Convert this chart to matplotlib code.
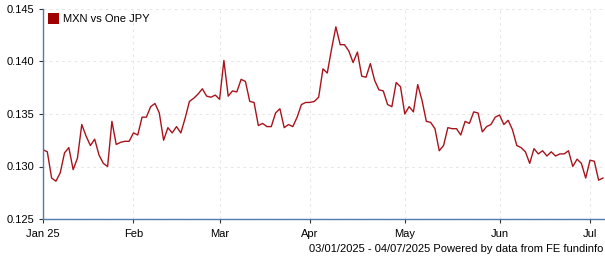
# Imports
import numpy as np
import pandas as pd
import matplotlib
matplotlib.use("Agg")
import matplotlib.pyplot as plt
from matplotlib.patches import Patch

plt.rcParams["font.family"] = ["Liberation Sans", "DejaVu Sans"]
plt.rcParams["font.size"] = 8

# =========================
# Data (one value per weekday, 03/01/2025 - 04/07/2025)
# =========================
dates = pd.bdate_range("2025-01-03", "2025-07-04")

mxn_jpy = [
    0.1316, 0.1314, 0.1289, 0.1286, 0.1294, 0.1313, 0.1318, 0.1297, 0.1308, 0.1340,
    0.1329, 0.1320, 0.1326, 0.1311, 0.1303, 0.1300, 0.1343, 0.1321, 0.1323, 0.1324,
    0.1324, 0.1332, 0.1330, 0.1347, 0.1347, 0.1357, 0.1360, 0.1351, 0.1325, 0.1337,
    0.1332, 0.1338, 0.1332, 0.1346, 0.1362, 0.1365, 0.1369, 0.1374, 0.1367, 0.1366,
    0.1368, 0.1364, 0.1401, 0.1367, 0.1372, 0.1371, 0.1383, 0.1381, 0.1362, 0.1361,
    0.1339, 0.1341, 0.1338, 0.1338, 0.1351, 0.1355, 0.1337, 0.1340, 0.1338, 0.1347,
    0.1359, 0.1361, 0.1361, 0.1362, 0.1366, 0.1393, 0.1389, 0.1412, 0.1433, 0.1416,
    0.1416, 0.1410, 0.1399, 0.1409, 0.1386, 0.1385, 0.1398, 0.1382, 0.1373, 0.1372,
    0.1359, 0.1357, 0.1380, 0.1376, 0.1350, 0.1357, 0.1352, 0.1378, 0.1363, 0.1343,
    0.1342, 0.1336, 0.1315, 0.1320, 0.1337, 0.1336, 0.1336, 0.1330, 0.1343, 0.1341,
    0.1352, 0.1351, 0.1333, 0.1338, 0.1340, 0.1347, 0.1349, 0.1340, 0.1344, 0.1335,
    0.1320, 0.1318, 0.1314, 0.1303, 0.1317, 0.1312, 0.1315, 0.1310, 0.1314, 0.1310,
    0.1312, 0.1312, 0.1315, 0.1300, 0.1307, 0.1303, 0.1289, 0.1306, 0.1305, 0.1287,
    0.1289,
]

y_ticks = [0.125, 0.130, 0.135, 0.140, 0.145]
month_labels = ["Jan 25", "Feb", "Mar", "Apr", "May", "Jun", "Jul"]

series_name = "MXN vs One JPY"
footer = "03/01/2025 - 04/07/2025 Powered by data from FE fundinfo"

# =========================
# Plot
# =========================
line_color = "#a8141c"
spine_color = "#4f7db0"

x = np.arange(len(dates))
month_start = [0] + [i for i in range(1, len(dates)) if dates[i].month != dates[i - 1].month]

fig = plt.figure(figsize=(6.05, 2.6), dpi=100)
ax = fig.add_axes([43 / 605, 41 / 260, 561 / 605, 210 / 260])

ax.plot(x, mxn_jpy, color=line_color, lw=1.0)

ax.set_xlim(0, 130.25)
ax.set_ylim(0.125, 0.145)

ax.set_yticks(y_ticks)
ax.set_yticklabels([f"{v:.3f}" for v in y_ticks])
ax.set_xticks(month_start)
ax.set_xticklabels(month_labels)

ax.grid(True, color="#e6e6e6", lw=0.75, linestyle=(0, (2.5, 3.5)))
ax.set_axisbelow(True)

for side in ["top", "right"]:
    ax.spines[side].set_visible(False)
for side in ["left", "bottom"]:
    ax.spines[side].set_color(spine_color)
    ax.spines[side].set_linewidth(1.0)

ax.tick_params(axis="both", direction="out", length=3, width=0.8, color="#333333",
               labelsize=8, labelcolor="black")
ax.tick_params(axis="y", pad=3)
ax.tick_params(axis="x", pad=4)

handle = Patch(facecolor="#a00000", edgecolor="none")
ax.legend([handle], [series_name], loc="upper left", bbox_to_anchor=(5 / 561, 1 - 4 / 210),
          frameon=False, borderpad=0, borderaxespad=0, handlelength=1.0, handleheight=1.1,
          handletextpad=0.35, fontsize=8)

fig.text(603 / 605, 1 - 249 / 260, footer, ha="right", va="center", fontsize=8)

fig.savefig("out.png", dpi=100)
